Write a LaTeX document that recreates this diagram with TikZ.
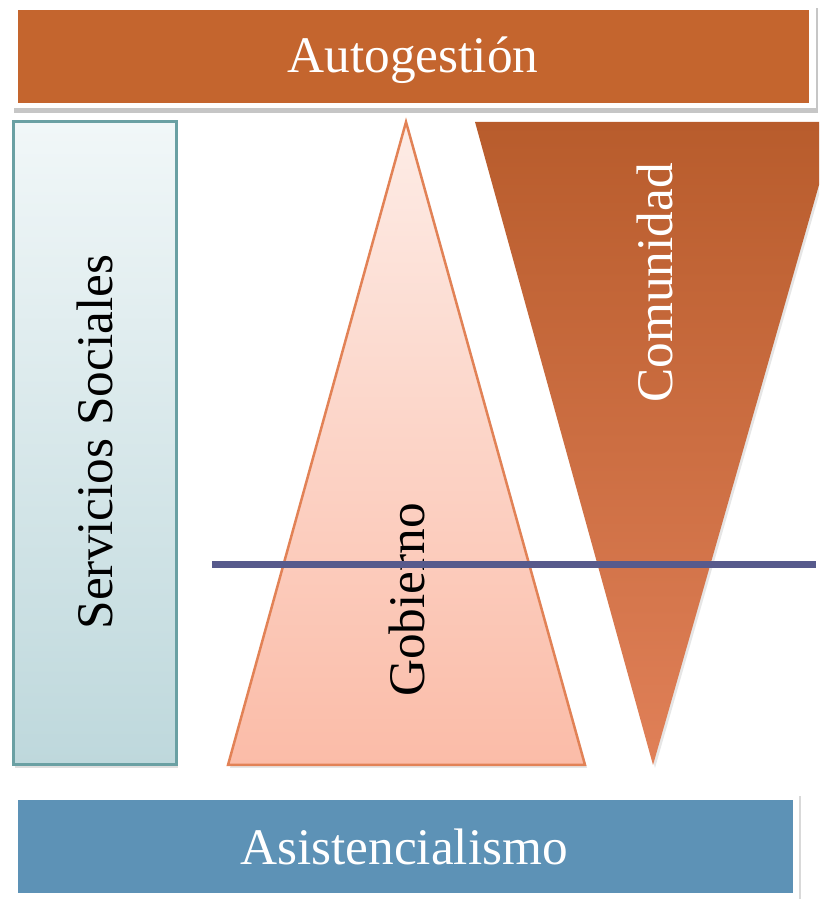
\documentclass[tikz,border=0pt]{standalone}
\usepackage{fontspec}
\setmainfont{Liberation Serif}
\usepackage{tikz}
\usetikzlibrary{shadows}
\definecolor{autoorange}{RGB}{196,101,46}
\definecolor{asisblue}{RGB}{93,146,182}
\definecolor{comtop}{RGB}{184,92,44}
\definecolor{combot}{RGB}{224,128,88}
\definecolor{gobtop}{RGB}{253,236,230}
\definecolor{gobbot}{RGB}{251,188,168}
\definecolor{gobline}{RGB}{226,130,86}
\definecolor{servtop}{RGB}{241,247,248}
\definecolor{servbot}{RGB}{190,216,220}
\definecolor{servline}{RGB}{106,160,163}
\definecolor{cutline}{RGB}{87,90,140}
\def\labelfont{\fontsize{14.6}{17}\selectfont}

\begin{document}
\begin{tikzpicture}
			%%%%% START %%%%%
			\useasboundingbox (0, 0) rectangle (8.19, 8.99);
			\clip (0, 0) rectangle (8.19, 8.99);
			
			% top bar
			\fill[white, drop shadow={opacity=0.45, shadow xshift=0.02, shadow yshift=-0.05}] (0.115, 7.91) rectangle (8.16, 8.96);
			\fill[autoorange] (0.18, 7.96) rectangle (8.09, 8.89);
			\node[white, font=\labelfont] (auto) at (4.13, 8.39) {Autogestión};
			
			% left box
			\shade[top color=servtop, bottom color=servbot, drop shadow={opacity=0.25, shadow xshift=0.02, shadow yshift=-0.03}] (0.13, 1.34) rectangle (1.76, 7.77);
			\draw[line width=0.3mm, color=servline] (0.13, 1.34) rectangle (1.76, 7.77);
			\node[rotate=90, font=\labelfont] (serv) at (0.95, 4.57) {Servicios Sociales};
			
			% up triangle
			\shade[top color=gobtop, bottom color=gobbot, drop shadow={opacity=0.2, shadow xshift=0.02, shadow yshift=-0.03}] (4.06, 7.77) -- (5.85, 1.34) -- (2.28, 1.34) -- cycle;
			\draw[line width=0.25mm, color=gobline] (4.06, 7.77) -- (5.85, 1.34) -- (2.28, 1.34) -- cycle;
			\node[rotate=90, font=\labelfont] (gob) at (4.07, 2.99) {Gobierno};
			
			% down triangle
			\shade[top color=comtop, bottom color=combot, drop shadow={opacity=0.2, shadow xshift=0.02, shadow yshift=-0.03}] (4.75, 7.77) -- (8.37, 7.77) -- (6.53, 1.34) -- cycle;
			\node[rotate=90, white, font=\labelfont] (com) at (6.55, 6.16) {Comunidad};
			
			% cut line
			\draw[line width=0.7mm, color=cutline] (2.12, 3.34) -- (8.16, 3.34);
			
			% bottom bar
			\fill[white, drop shadow={opacity=0.3, shadow xshift=0.02, shadow yshift=-0.03}] (0.115, -0.2) rectangle (7.99, 1.06);
			\fill[asisblue] (0.18, 0.06) rectangle (7.93, 0.99);
			\node[white, font=\labelfont] (asis) at (4.04, 0.52) {Asistencialismo};
			%%%%% END %%%%%
\end{tikzpicture}
\end{document}
